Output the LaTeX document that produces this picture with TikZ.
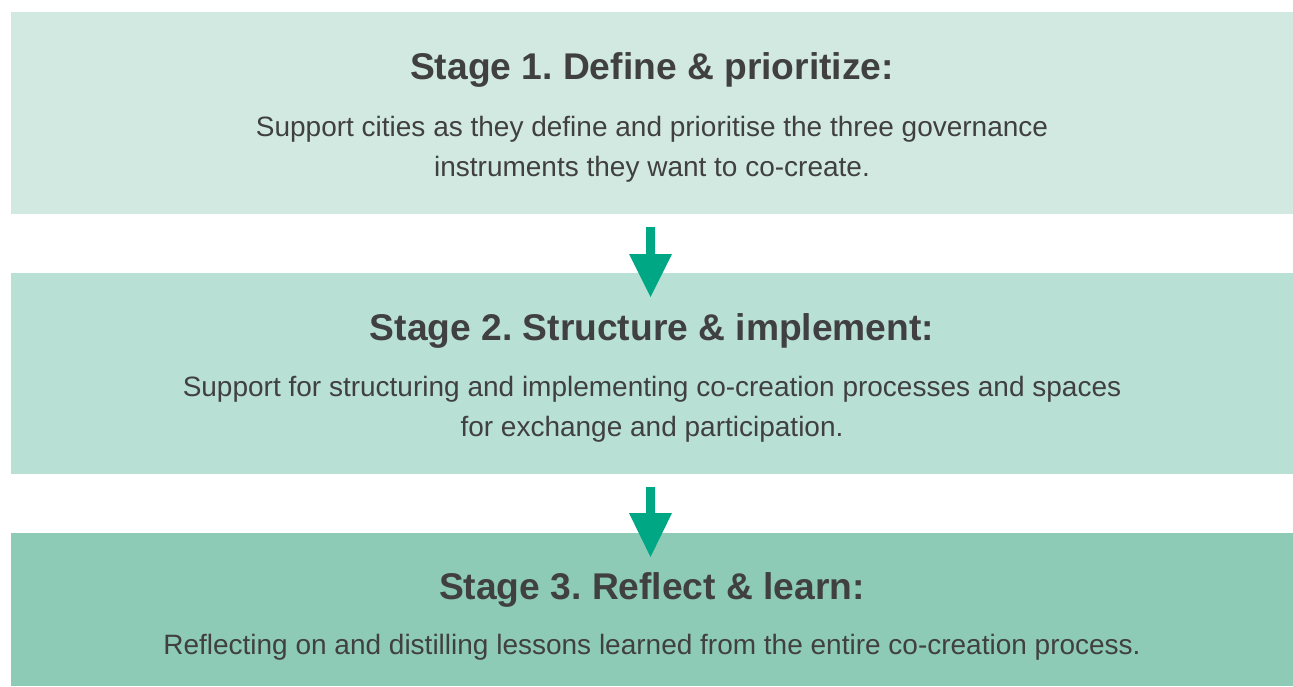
\documentclass[tikz,border=0pt]{standalone}
\usepackage{fontspec}
\setmainfont{Liberation Sans}
\frenchspacing
\definecolor{boxA}{HTML}{D2E9E2}
\definecolor{boxB}{HTML}{B9E0D5}
\definecolor{boxC}{HTML}{8DCBB6}
\definecolor{arrowc}{HTML}{00A784}
\definecolor{txt}{HTML}{404040}
\begin{document}
\begin{tikzpicture}[x=1pt,y=-1pt,
  titletxt/.style={anchor=base,text=txt,font=\fontsize{37.2}{42}\selectfont\bfseries,inner sep=0pt},
  bodytxt/.style={anchor=base,text=txt,font=\fontsize{28}{32}\selectfont,inner sep=0pt},
  arrowshape/.style={fill=arrowc}]
\useasboundingbox (0,0) rectangle (1293,686);
\fill[boxA] (11,12) rectangle (1293,214);
\fill[boxB] (11,273) rectangle (1293,474);
\fill[boxC] (11,533) rectangle (1293,686);
\node[titletxt] (t1) at (652,79) {Stage 1. Define \& prioritize:};
\node[bodytxt] (d1a) at (652,136.5) {Support cities as they define and prioritise the three governance};
\node[bodytxt] (d1b) at (652,176) {instruments they want to co-create.};
\node[titletxt] (t2) at (652,340) {Stage 2. Structure \& implement:};
\node[bodytxt] (d2a) at (652,396.5) {Support for structuring and implementing co-creation processes and spaces};
\node[bodytxt] (d2b) at (652,436.5) {for exchange and participation.};
\node[titletxt] (t3) at (652,599) {Stage 3. Reflect \& learn:};
\node[bodytxt] (d3a) at (652,654.5) {Reflecting on and distilling lessons learned from the entire co-creation process.};
\fill[arrowshape] (646,227) -- (655,227) -- (655,254) -- (672,254) -- (650.5,297) -- (629,254) -- (646,254) -- cycle;
\fill[arrowshape] (646,487) -- (655,487) -- (655,513) -- (672,513) -- (650.5,557) -- (629,513) -- (646,513) -- cycle;
\end{tikzpicture}
\end{document}
